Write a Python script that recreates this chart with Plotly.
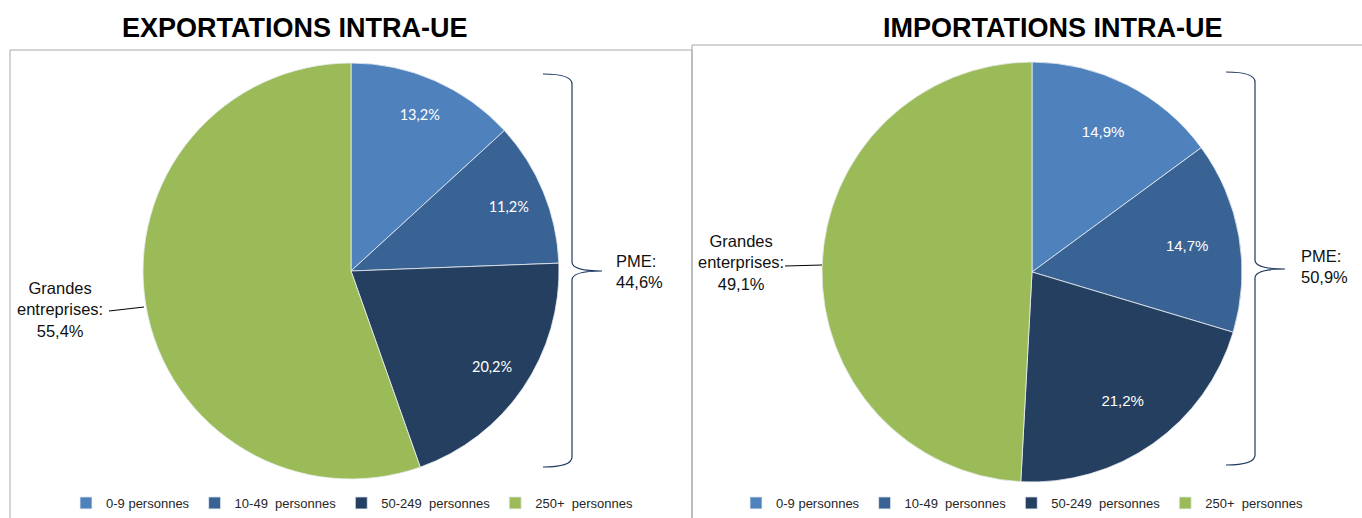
"""
Répartition des échanges intra-UE par taille d'entreprise.
Two pies (exports / imports) with PME bracket and Grandes entreprises callout.
"""

import plotly.graph_objects as go

# ── Data ─────────────────────────────────────────────────
labels = ["0-9 personnes", "10-49\u00a0 personnes",
          "50-249\u00a0 personnes", "250+\u00a0 personnes"]
exports = [13.2, 11.2, 20.2, 55.4]
imports = [14.9, 14.7, 21.2, 49.1]
pme_share = [44.6, 50.9]        # as printed on the chart
grandes_share = [55.4, 49.1]
titles = ["EXPORTATIONS INTRA-UE", "IMPORTATIONS INTRA-UE"]
grandes_words = ["entreprises", "enterprises"]   # spelling kept as in source

# ── Style ────────────────────────────────────────────────
W, H = 1362, 518
COLORS = ["#4F81BD", "#3A6395", "#253F60", "#9BBB59"]
BRACE = "#1F3A60"
BOX = "#A6A6A6"
ARIAL = "Liberation Sans, Arial, sans-serif"


def px_domain(x0, x1, y0, y1):
    """pixel box (top-left origin) -> paper domain"""
    return dict(x=[x0 / W, x1 / W], y=[1 - y1 / H, 1 - y0 / H])


def fr(v):
    return f"{v:.1f}".replace(".", ",")


def brace(x_in, x_v, x_tip, y_top, y_mid, y_bot):
    return (f"M{x_in},{y_top} Q{x_v},{y_top} {x_v},{y_top + 10} "
            f"L{x_v},{y_mid - 9} Q{x_v},{y_mid} {x_tip},{y_mid} "
            f"Q{x_v},{y_mid} {x_v},{y_mid + 9} "
            f"L{x_v},{y_bot - 10} Q{x_v},{y_bot} {x_in},{y_bot}")


fig = go.Figure()

# pie legend entries are de-duplicated by label across traces, so the
# second legend gets an invisible suffix to keep its own copy
pies = [
    (exports, labels, px_domain(143, 559, 63, 479), "legend", 0.64,
     dict(family="Lato, Open Sans, sans-serif", size=14.5, color="white")),
    (imports, [l + "\u200b" for l in labels], px_domain(822, 1242, 62, 482),
     "legend2", 0.5,
     dict(family=ARIAL, size=15, color="white")),
]
for vals, labs, dom, leg, ring, tfont in pies:
    # coloured slices
    fig.add_trace(go.Pie(
        labels=labs, values=vals, domain=dom, legend=leg,
        sort=False, direction="clockwise", rotation=0,
        marker=dict(colors=COLORS, line=dict(color="#E8EDF3", width=0.8)),
        textinfo="none", hoverinfo="label+percent",
    ))
    # transparent ring on top, only to carry the value labels further out
    fig.add_trace(go.Pie(
        labels=labs, values=vals, domain=dom, hole=ring, legend=leg,
        sort=False, direction="clockwise", rotation=0, showlegend=False,
        marker=dict(colors=["rgba(0,0,0,0)"] * 4, line=dict(width=0)),
        textposition="inside", insidetextorientation="horizontal",
        texttemplate=["%{value:.1f}%"] * 3 + [""],
        textfont=tfont, hoverinfo="skip",
    ))

# ── Boxes, braces, leader lines (pixel space) ───────────
shapes = [
    dict(type="rect", x0=10, y0=50, x1=692, y1=530,
         line=dict(color=BOX, width=1)),
    dict(type="rect", x0=692, y0=45, x1=1372, y1=530,
         line=dict(color=BOX, width=1)),
    dict(type="path", path=brace(543, 572, 602, 74, 271, 467),
         line=dict(color=BRACE, width=1.2)),
    dict(type="path", path=brace(1226, 1255, 1285, 72, 269, 465),
         line=dict(color=BRACE, width=1.2)),
    dict(type="line", x0=109, y0=311, x1=144, y1=307,
         line=dict(color="black", width=1)),
    dict(type="line", x0=785, y0=266, x1=822, y1=265,
         line=dict(color="black", width=1)),
]
for s in shapes:
    s.update(xref="x", yref="y", layer="above")

annotations = [
    dict(x=295, y=28, text=f"<b>{titles[0]}</b>",
         font=dict(family=ARIAL, size=27, color="black")),
    dict(x=1052, y=28, text=f"<b>{titles[1]}</b>",
         font=dict(family=ARIAL, size=27, color="black")),
    dict(x=60, y=309, text=f"Grandes<br>{grandes_words[0]}:<br>{fr(grandes_share[0])}%"),
    dict(x=741, y=262, text=f"Grandes<br>{grandes_words[1]}:<br>{fr(grandes_share[1])}%"),
    dict(x=614, y=271, xanchor="left", align="left",
         text=f"PME:<br>{fr(pme_share[0])}%"),
    dict(x=1299, y=266, xanchor="left", align="left",
         text=f"PME:<br>{fr(pme_share[1])}%"),
]
for a in annotations:
    a.setdefault("font", dict(family=ARIAL, size=16.5, color="#111111"))
    a.update(xref="x", yref="y", showarrow=False)

# anchored inside the paper so the legends don't push the margins
LEG = dict(orientation="h", xanchor="center", yanchor="bottom", y=0,
           bgcolor="rgba(0,0,0,0)", itemwidth=30,
           font=dict(family=ARIAL, size=13, color="#262626"))

fig.update_layout(
    width=W, height=H, autosize=False,
    margin=dict(l=0, r=0, t=0, b=0),
    paper_bgcolor="white", plot_bgcolor="white",
    separators=",.",
    showlegend=True,
    legend=dict(LEG, x=352 / W),
    legend2=dict(LEG, x=1022 / W),
    xaxis=dict(range=[0, W], visible=False, fixedrange=True, domain=[0, 1]),
    yaxis=dict(range=[H, 0], visible=False, fixedrange=True, domain=[0, 1]),
    shapes=shapes,
    annotations=annotations,
)

# the page body has an 8px default margin; drop it so pixels line up
fig.write_html("out.html", config={"displayModeBar": False},
               post_script="document.body.style.margin='0';")
